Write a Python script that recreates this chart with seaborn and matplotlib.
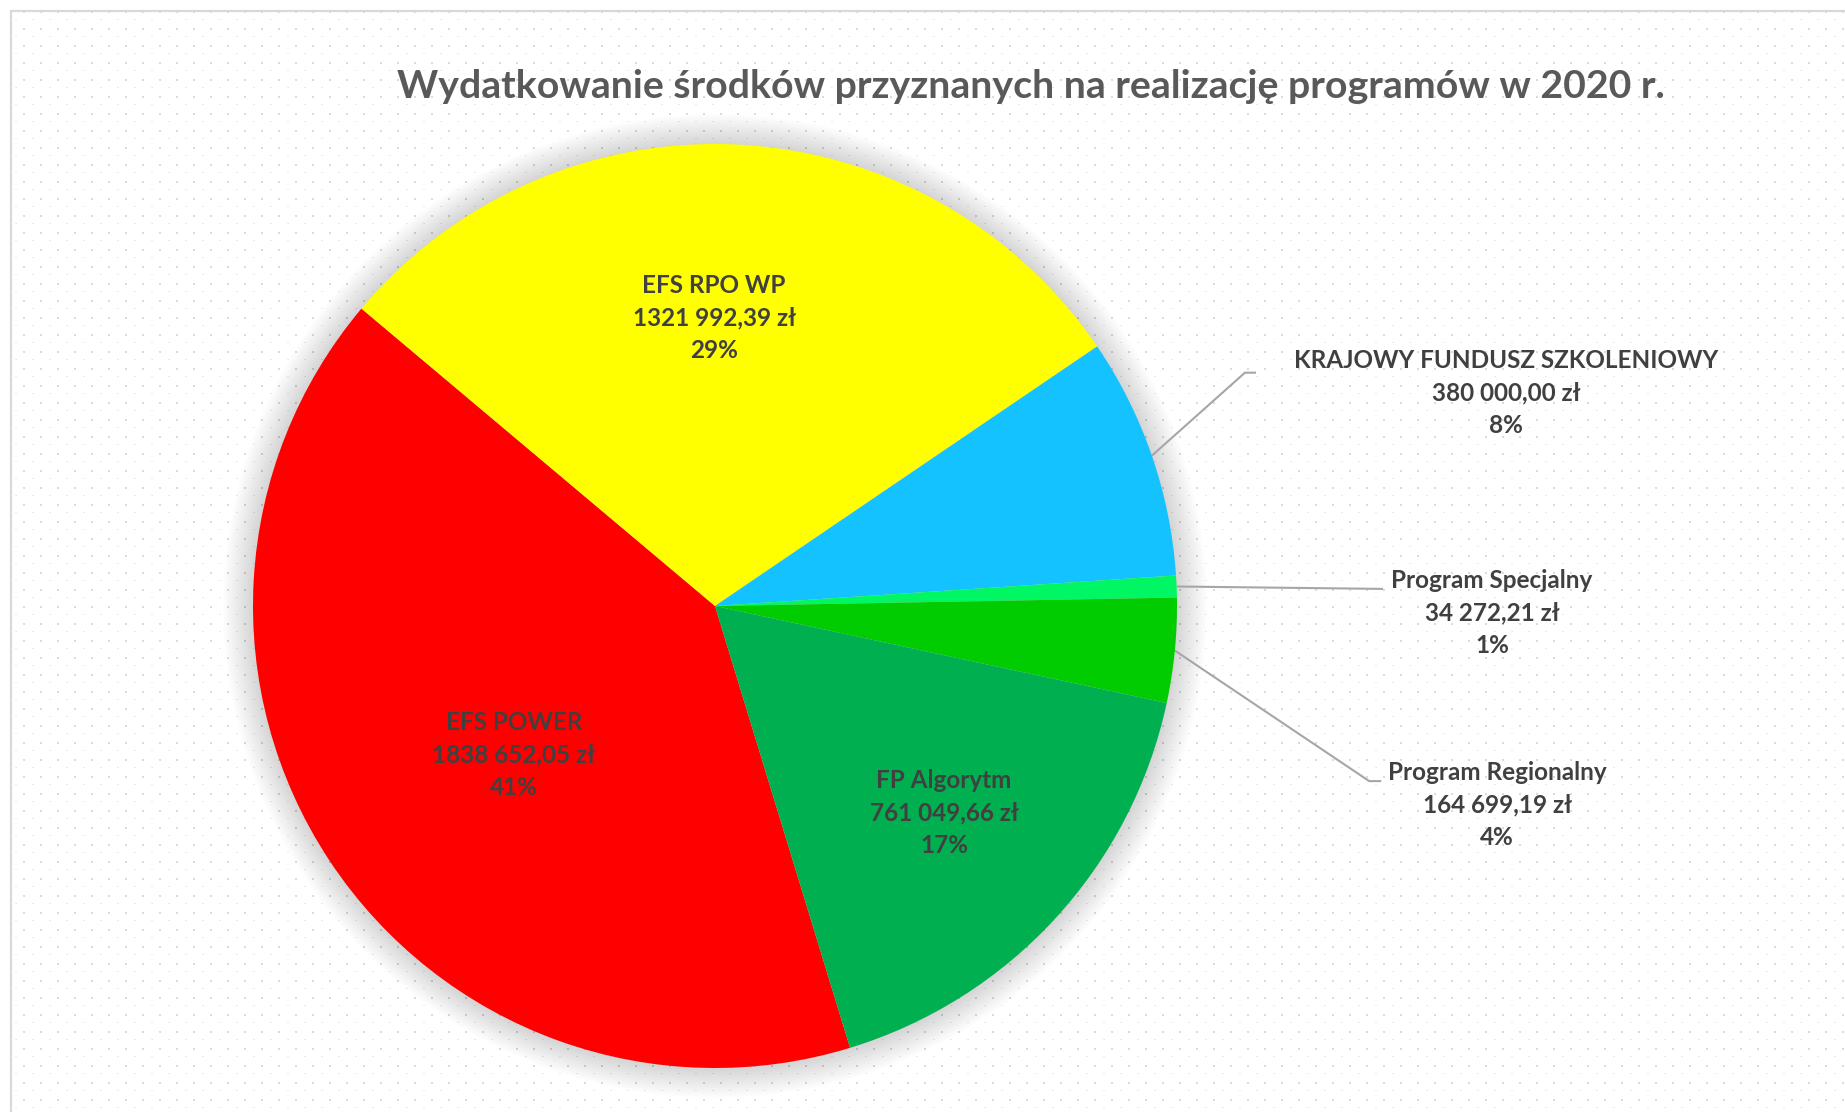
import numpy as np
import matplotlib
matplotlib.use("Agg")
import matplotlib.pyplot as plt
from matplotlib.lines import Line2D
from matplotlib.patches import Circle
import seaborn as sns

sns.set_theme(style="white")
plt.rcParams['font.family'] = ['Lato', 'DejaVu Sans']

# data
categories = ["EFS POWER", "EFS RPO WP", "KRAJOWY FUNDUSZ SZKOLENIOWY",
              "Program Specjalny", "Program Regionalny", "FP Algorytm"]
amounts = [1838652.05, 1321992.39, 380000.00, 34272.21, 164699.19, 761049.66]
colors = ["#FF0000", "#FFFF00", "#14C2FF", "#00F763", "#00CC00", "#00B050"]
title = "Wydatkowanie środków przyznanych na realizację programów w 2020 r."

W, H = 1845, 1112
cx, cy, R = 715, 606, 462  # pie centre / radius in pixels

def fmt_pln(v):
    s = f"{v:.2f}"
    i, d = s.split(".")
    if len(i) > 3:
        i = i[:-3] + " " + i[-3:]
    return f"{i},{d} zł"

total = sum(amounts)
pcts = [round(100 * a / total) for a in amounts]
texts = [f"{c}\n{fmt_pln(a)}\n{p}%" for c, a, p in zip(categories, amounts, pcts)]

fig = plt.figure(figsize=(W / 100, H / 100), dpi=100)
fig.patch.set_facecolor("white")

# dotted pattern background
bg = np.ones((H, W, 3))
yy, xx = np.mgrid[0:H, 0:W]
inside = (xx >= 12) & (yy >= 12)
dark = inside & (((xx - 6) % 17) < 2) & (((yy - 11) % 17) < 2)
light = inside & (((xx - 15) % 17) < 2) & (((yy - 2) % 17) < 1)
bg[dark] = 0.86
bg[light] = 0.92
fig.figimage(bg, xo=0, yo=0, origin="upper", zorder=0)

# frame (cut off on right and bottom)
fig.add_artist(Line2D([10.5 / W, 10.5 / W], [0, 1 - 11 / H], color="#D9D9D9", lw=1.6))
fig.add_artist(Line2D([10.5 / W, 1], [1 - 11 / H, 1 - 11 / H], color="#D9D9D9", lw=1.6))

ax = fig.add_axes([0, 0, 1, 1])
ax.set_zorder(1)
ax.patch.set_alpha(0)

# soft glow around the pie
for r in np.linspace(1.0, 1.065, 22):
    ax.add_patch(Circle((0, 0), r, color="black", alpha=0.0075, lw=0, zorder=0))

wedges, _ = ax.pie(amounts, colors=colors, startangle=287.0, counterclock=False,
                   radius=1, wedgeprops=dict(linewidth=0))
for w in wedges:
    w.set_zorder(2)

ax.set_xlim(-cx / R, (W - cx) / R)
ax.set_ylim(-(H - cy) / R, cy / R)
ax.set_aspect("auto")
ax.axis("off")

lab_color = "#404040"
fs = 17.5
lsp = 1.5

# labels inside slices
inside_pos = {0: (-0.435, -0.323), 1: (-0.002, 0.623), 5: (0.496, -0.448)}
for i, (x, y) in inside_pos.items():
    ax.text(x, y, texts[i], ha="center", va="center", fontsize=fs,
            fontweight="bold", color=lab_color, linespacing=lsp, zorder=3)

# labels outside with leader lines
outside = {
    2: dict(pos=(1.712, 0.461), path=[(1.147, 0.505), (1.171, 0.505)]),
    3: dict(pos=(1.682, -0.015), path=[(1.446, 0.037)]),
    4: dict(pos=(1.693, -0.431), path=[(1.416, -0.379), (1.442, -0.379)]),
}
for i, o in outside.items():
    w = wedges[i]
    ang = np.deg2rad((w.theta1 + w.theta2) / 2)
    pts = [(np.cos(ang), np.sin(ang))] + o["path"]
    ax.plot([p[0] for p in pts], [p[1] for p in pts], color="#A6A6A6", lw=1.5,
            zorder=1, solid_capstyle="butt")
    ax.text(o["pos"][0], o["pos"][1], texts[i], ha="center", va="center",
            fontsize=fs, fontweight="bold", color=lab_color, linespacing=lsp, zorder=3)

fig.text(1031 / W, 1 - 87 / H, title, ha="center", va="center", fontsize=28.3,
         fontweight="bold", color="#595959")

fig.savefig("out.png", dpi=100)
